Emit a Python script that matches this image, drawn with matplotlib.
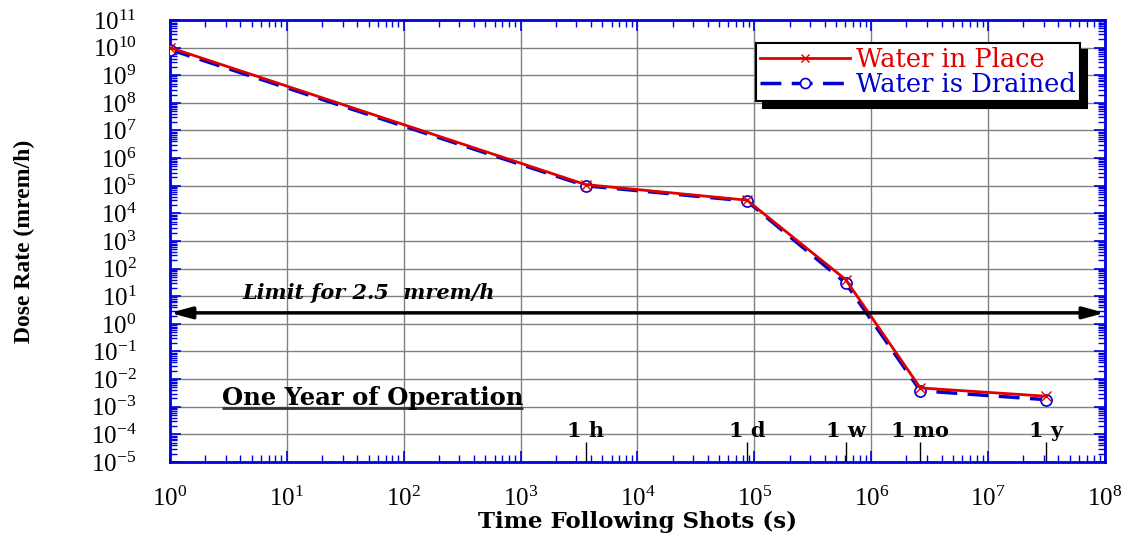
import numpy as np
import matplotlib
matplotlib.use('Agg')
import matplotlib.pyplot as plt
from matplotlib.ticker import LogLocator, NullFormatter

plt.rcParams['font.family'] = ['Liberation Serif', 'DejaVu Serif']
plt.rcParams['mathtext.fontset'] = 'custom'
plt.rcParams['mathtext.rm'] = 'Liberation Serif'
plt.rcParams['mathtext.it'] = 'Liberation Serif:italic'
plt.rcParams['mathtext.bf'] = 'Liberation Serif:bold'

# data
t_s = [1, 3600, 86400, 604800, 2.63e6, 3.15e7]
water_in_place = [1.0e10, 1.1e5, 3.0e4, 40, 4.8e-3, 2.4e-3]
water_drained = [8.5e9, 1.0e5, 2.8e4, 30, 3.8e-3, 1.8e-3]

limit = 2.5
mark_t = [3600, 86400, 604800, 2.63e6, 3.15e7]
mark_lbl = ['1 h', '1 d', '1 w', '1 mo', '1 y']

fig = plt.figure(figsize=(11.36, 5.37), dpi=100)
ax = fig.add_axes([0.1496, 0.1397, 0.8231, 0.8231])

ax.plot(t_s, water_in_place, '-', color='#e00000', lw=2, marker='x', ms=7,
        mew=1, label='Water in Place', zorder=4)
ax.plot(t_s, water_drained, '--', color='#0000d0', lw=2.5, dashes=(6, 3),
        marker='o', ms=8, mfc='white', mec='#0000d0', mew=1.2,
        label='Water is Drained', zorder=3)

ax.set_xscale('log')
ax.set_yscale('log')
ax.set_xlim(1, 1e8)
ax.set_ylim(1e-5, 1e11)

ax.xaxis.set_major_locator(LogLocator(base=10, numticks=20))
ax.yaxis.set_major_locator(LogLocator(base=10, numticks=30))
ax.xaxis.set_minor_locator(LogLocator(base=10, subs=np.arange(2, 10), numticks=100))
ax.yaxis.set_minor_locator(LogLocator(base=10, subs=np.arange(2, 10), numticks=100))
ax.xaxis.set_minor_formatter(NullFormatter())
ax.yaxis.set_minor_formatter(NullFormatter())

ax.grid(True, which='major', color='#808080', lw=1)
for s in ax.spines.values():
    s.set_color('#0000e0')
    s.set_linewidth(2)
ax.tick_params(which='both', direction='in', top=True, right=True, color='#0000e0')
ax.tick_params(which='major', length=8, width=1.2, labelsize=18)
ax.tick_params(axis='y', which='major', pad=24)
ax.tick_params(axis='x', which='major', pad=18)
ax.tick_params(which='minor', length=5, width=1)

# limit arrow
ax.annotate('', xy=(1e8, limit), xytext=(1, limit),
            arrowprops=dict(arrowstyle='<|-|>,head_length=1.3,head_width=0.35',
                            color='black', lw=2.5, shrinkA=0, shrinkB=0), zorder=5)
ax.text(4.2, 13, 'Limit for 2.5  mrem/h', fontsize=15, style='italic',
        fontweight='bold', family='DejaVu Serif', ha='left', va='center')

t = ax.text(2.79, 10 ** -2.93, 'One Year of Operation', fontsize=17.5,
            fontweight='bold', family='DejaVu Serif', ha='left', va='baseline')

# time markers
ax.vlines(mark_t, 1e-5, 10 ** -4.28, color='black', lw=1, zorder=5)
for x, lb in zip(mark_t, mark_lbl):
    ax.text(x, 10 ** -4.08, lb, fontsize=15, fontweight='bold',
            family='DejaVu Serif', ha='center', va='baseline')

ax.set_xlabel('Time Following Shots (s)', fontsize=16.5, fontweight='bold',
              family='DejaVu Serif', labelpad=0)
ax.set_ylabel('Dose Rate (mrem/h)', fontsize=17, family='Liberation Serif',
              fontweight='bold', labelpad=40)

leg = ax.legend(loc='upper right', bbox_to_anchor=(0.973, 0.948), borderaxespad=0,
                prop={'family': 'DejaVu Serif', 'size': 18.5}, fancybox=False,
                edgecolor='black', framealpha=1, borderpad=0.15, handlelength=3.5,
                handletextpad=0.25, labelspacing=0.0, markerscale=0.9,
                shadow={'color': 'black', 'alpha': 1, 'ox': 5, 'oy': -5})
leg.get_frame().set_linewidth(1.5)
for txt, c in zip(leg.get_texts(), ['#e00000', '#0000d0']):
    txt.set_color(c)

# underline for the "One Year of Operation" label
fig.canvas.draw()
bb = t.get_window_extent()
_, ybase = ax.transData.transform((2.79, 10 ** -2.93))
inv = ax.transData.inverted()
x0, y0 = inv.transform((bb.x0, ybase - 3))
x1, _ = inv.transform((bb.x1, ybase - 3))
ax.plot([x0, x1], [y0, y0], color='#333333', lw=2, solid_capstyle='butt')

fig.savefig('out.png', dpi=100)
